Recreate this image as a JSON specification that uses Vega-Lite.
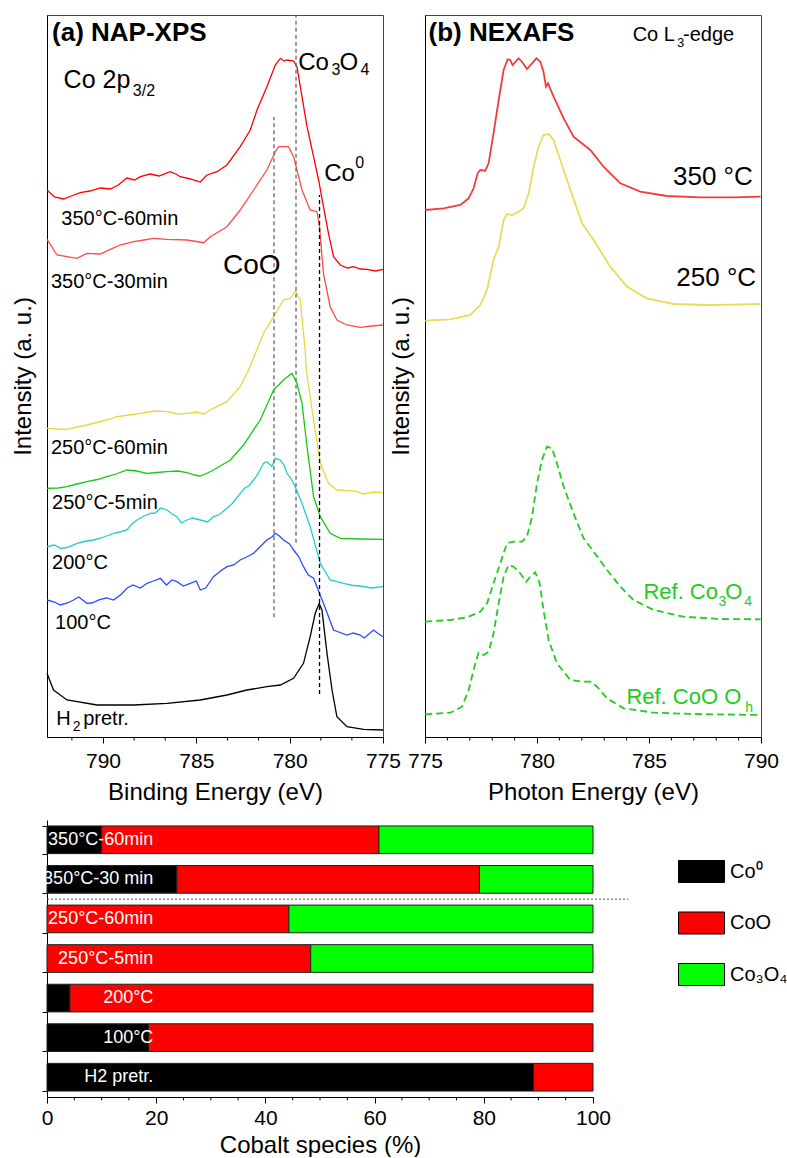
{
 "$schema": "https://vega.github.io/schema/vega-lite/v6.json",
 "padding": {"left": 10, "top": 13, "right": 5, "bottom": 0},
 "config": {
  "font": "Liberation Sans",
  "view": {"stroke": null},
  "axis": {"labelFont": "Liberation Sans", "titleFont": "Liberation Sans", "labelFontSize": 21, "titleFontSize": 24, "titleFontWeight": "normal", "labelColor": "black", "titleColor": "black", "domainColor": "black", "tickColor": "black", "grid": false, "labelFlush": false, "labelOverlap": false},
  "legend": {"labelFont": "Liberation Sans"}
 },
 "datasets": {
  "xps": [
   {"s":"350-60","E":793.0,"I":547},{"s":"350-60","E":792.6,"I":540},{"s":"350-60","E":792.11,"I":538},{"s":"350-60","E":791.7,"I":541},{"s":"350-60","E":791.22,"I":544.3},{"s":"350-60","E":790.7,"I":546},{"s":"350-60","E":790.15,"I":549},{"s":"350-60","E":789.6,"I":548},{"s":"350-60","E":789.18,"I":552},{"s":"350-60","E":788.72,"I":559},{"s":"350-60","E":788.3,"I":557},{"s":"350-60","E":788.0,"I":560.3},{"s":"350-60","E":787.47,"I":563},{"s":"350-60","E":787.0,"I":561},{"s":"350-60","E":786.4,"I":565.3},{"s":"350-60","E":786.1,"I":563},{"s":"350-60","E":785.86,"I":560.3},{"s":"350-60","E":785.32,"I":558},{"s":"350-60","E":784.79,"I":555},{"s":"350-60","E":784.43,"I":562},{"s":"350-60","E":783.89,"I":565.3},{"s":"350-60","E":783.36,"I":572},{"s":"350-60","E":782.65,"I":590.3},{"s":"350-60","E":782.11,"I":607},{"s":"350-60","E":781.75,"I":627},{"s":"350-60","E":781.22,"I":650.3},{"s":"350-60","E":780.77,"I":672},{"s":"350-60","E":780.5,"I":678.7},{"s":"350-60","E":780.3,"I":676},{"s":"350-60","E":780.15,"I":677},{"s":"350-60","E":779.79,"I":676},{"s":"350-60","E":779.61,"I":670.3},{"s":"350-60","E":779.34,"I":640.3},{"s":"350-60","E":779.07,"I":610.3},{"s":"350-60","E":778.72,"I":580.3},{"s":"350-60","E":778.45,"I":557},{"s":"350-60","E":778.19,"I":530.3},{"s":"350-60","E":777.92,"I":503.7},{"s":"350-60","E":777.65,"I":480.3},{"s":"350-60","E":777.29,"I":472},{"s":"350-60","E":776.9,"I":469},{"s":"350-60","E":776.58,"I":470.3},{"s":"350-60","E":776.2,"I":468},{"s":"350-60","E":775.86,"I":467.7},{"s":"350-60","E":775.4,"I":466},{"s":"350-60","E":775.0,"I":467.7},
   {"s":"350-30","E":793.0,"I":497.7},{"s":"350-30","E":792.46,"I":482},{"s":"350-30","E":791.93,"I":480.3},{"s":"350-30","E":791.39,"I":478.7},{"s":"350-30","E":790.86,"I":483.7},{"s":"350-30","E":790.15,"I":483},{"s":"350-30","E":789.61,"I":487.7},{"s":"350-30","E":789.08,"I":492},{"s":"350-30","E":788.36,"I":495.3},{"s":"350-30","E":787.8,"I":497},{"s":"350-30","E":787.29,"I":498.7},{"s":"350-30","E":786.57,"I":497.7},{"s":"350-30","E":785.5,"I":497},{"s":"350-30","E":784.61,"I":494.3},{"s":"350-30","E":784.25,"I":500.3},{"s":"350-30","E":783.36,"I":510.3},{"s":"350-30","E":782.65,"I":527},{"s":"350-30","E":781.93,"I":547},{"s":"350-30","E":781.22,"I":567},{"s":"350-30","E":780.77,"I":585.3},{"s":"350-30","E":780.59,"I":590.3},{"s":"350-30","E":780.06,"I":590.3},{"s":"350-30","E":779.79,"I":580.3},{"s":"350-30","E":779.34,"I":547},{"s":"350-30","E":778.9,"I":527},{"s":"350-30","E":778.54,"I":525.3},{"s":"350-30","E":778.4,"I":510.3},{"s":"350-30","E":778.19,"I":463.7},{"s":"350-30","E":777.83,"I":430.3},{"s":"350-30","E":777.47,"I":417},{"s":"350-30","E":776.93,"I":412},{"s":"350-30","E":776.22,"I":409.7},{"s":"350-30","E":775.6,"I":411},{"s":"350-30","E":775.0,"I":412},
   {"s":"250-60","E":793.0,"I":308.7},{"s":"250-60","E":792.4,"I":308},{"s":"250-60","E":791.93,"I":307.7},{"s":"250-60","E":791.4,"I":310},{"s":"250-60","E":790.86,"I":312},{"s":"250-60","E":790.0,"I":316},{"s":"250-60","E":789.6,"I":318},{"s":"250-60","E":789.25,"I":320.3},{"s":"250-60","E":788.6,"I":322},{"s":"250-60","E":788.0,"I":323.7},{"s":"250-60","E":787.2,"I":326},{"s":"250-60","E":786.57,"I":325.3},{"s":"250-60","E":786.0,"I":323},{"s":"250-60","E":785.5,"I":323.7},{"s":"250-60","E":785.0,"I":325},{"s":"250-60","E":784.61,"I":323},{"s":"250-60","E":784.08,"I":328.7},{"s":"250-60","E":783.36,"I":335.3},{"s":"250-60","E":782.65,"I":350.3},{"s":"250-60","E":782.2,"I":367},{"s":"250-60","E":781.4,"I":403.7},{"s":"250-60","E":780.86,"I":420.3},{"s":"250-60","E":780.33,"I":437},{"s":"250-60","E":779.97,"I":438.7},{"s":"250-60","E":779.7,"I":446},{"s":"250-60","E":779.43,"I":437},{"s":"250-60","E":779.17,"I":387},{"s":"250-60","E":779.11,"I":367},{"s":"250-60","E":778.72,"I":317},{"s":"250-60","E":778.36,"I":273.7},{"s":"250-60","E":777.92,"I":253.7},{"s":"250-60","E":777.47,"I":247},{"s":"250-60","E":776.75,"I":246.3},{"s":"250-60","E":776.4,"I":245.5},{"s":"250-60","E":776.04,"I":243},{"s":"250-60","E":775.5,"I":245},{"s":"250-60","E":775.0,"I":244.3},
   {"s":"250-5","E":793.0,"I":248.7},{"s":"250-5","E":792.4,"I":249},{"s":"250-5","E":791.93,"I":250.3},{"s":"250-5","E":791.4,"I":253},{"s":"250-5","E":790.86,"I":255.3},{"s":"250-5","E":790.3,"I":257.5},{"s":"250-5","E":789.79,"I":260.3},{"s":"250-5","E":789.3,"I":263},{"s":"250-5","E":788.72,"I":267},{"s":"250-5","E":788.2,"I":266},{"s":"250-5","E":787.64,"I":263.7},{"s":"250-5","E":787.1,"I":264.5},{"s":"250-5","E":786.57,"I":265.3},{"s":"250-5","E":786.0,"I":266},{"s":"250-5","E":785.5,"I":264.3},{"s":"250-5","E":785.1,"I":262},{"s":"250-5","E":784.79,"I":261},{"s":"250-5","E":784.4,"I":264},{"s":"250-5","E":784.08,"I":267},{"s":"250-5","E":783.18,"I":277},{"s":"250-5","E":782.47,"I":292},{"s":"250-5","E":781.58,"I":317},{"s":"250-5","E":780.86,"I":347},{"s":"250-5","E":780.33,"I":357},{"s":"250-5","E":779.88,"I":363.7},{"s":"250-5","E":779.61,"I":353.7},{"s":"250-5","E":779.34,"I":333.7},{"s":"250-5","E":779.07,"I":290.3},{"s":"250-5","E":778.72,"I":240.3},{"s":"250-5","E":778.36,"I":220.3},{"s":"250-5","E":777.83,"I":203.7},{"s":"250-5","E":777.29,"I":198.7},{"s":"250-5","E":776.22,"I":198},{"s":"250-5","E":775.0,"I":197.7},
   {"s":"200","E":793.0,"I":190.3},{"s":"200","E":792.6,"I":192},{"s":"200","E":792.29,"I":188.7},{"s":"200","E":791.9,"I":189.5},{"s":"200","E":791.39,"I":193.7},{"s":"200","E":791.0,"I":195.5},{"s":"200","E":790.5,"I":197},{"s":"200","E":790.1,"I":199},{"s":"200","E":789.8,"I":201},{"s":"200","E":789.43,"I":203.7},{"s":"200","E":789.1,"I":205},{"s":"200","E":788.72,"I":207},{"s":"200","E":788.45,"I":213},{"s":"200","E":788.18,"I":217},{"s":"200","E":787.8,"I":221},{"s":"200","E":787.47,"I":223.7},{"s":"200","E":787.2,"I":224},{"s":"200","E":786.9,"I":229},{"s":"200","E":786.57,"I":227},{"s":"200","E":786.3,"I":223},{"s":"200","E":786.04,"I":220.3},{"s":"200","E":785.8,"I":214},{"s":"200","E":785.5,"I":217},{"s":"200","E":785.2,"I":219},{"s":"200","E":784.79,"I":217},{"s":"200","E":784.4,"I":215},{"s":"200","E":784.08,"I":220.3},{"s":"200","E":783.8,"I":222},{"s":"200","E":783.36,"I":228.7},{"s":"200","E":783.1,"I":233},{"s":"200","E":782.65,"I":243.7},{"s":"200","E":782.4,"I":249},{"s":"200","E":782.2,"I":251},{"s":"200","E":781.93,"I":257},{"s":"200","E":781.7,"I":263},{"s":"200","E":781.4,"I":273.7},{"s":"200","E":781.22,"I":275.3},{"s":"200","E":780.95,"I":270.3},{"s":"200","E":780.77,"I":278.7},{"s":"200","E":780.5,"I":277},{"s":"200","E":780.3,"I":272},{"s":"200","E":780.15,"I":263.7},{"s":"200","E":779.95,"I":259},{"s":"200","E":779.79,"I":253.7},{"s":"200","E":779.34,"I":233.7},{"s":"200","E":778.9,"I":210.3},{"s":"200","E":778.36,"I":173.7},{"s":"200","E":777.83,"I":157},{"s":"200","E":777.11,"I":153.7},{"s":"200","E":776.6,"I":151.5},{"s":"200","E":776.22,"I":151},{"s":"200","E":775.6,"I":149},{"s":"200","E":775.0,"I":150.3},
   {"s":"100","E":793.0,"I":137},{"s":"100","E":792.6,"I":135},{"s":"100","E":792.29,"I":132},{"s":"100","E":791.9,"I":134},{"s":"100","E":791.58,"I":137},{"s":"100","E":791.3,"I":140},{"s":"100","E":790.86,"I":133.7},{"s":"100","E":790.6,"I":134},{"s":"100","E":790.15,"I":137.7},{"s":"100","E":789.8,"I":139},{"s":"100","E":789.43,"I":137},{"s":"100","E":789.0,"I":143},{"s":"100","E":788.72,"I":148.7},{"s":"100","E":788.4,"I":152},{"s":"100","E":788.0,"I":149},{"s":"100","E":787.64,"I":153.7},{"s":"100","E":787.3,"I":156},{"s":"100","E":786.93,"I":158.7},{"s":"100","E":786.6,"I":152},{"s":"100","E":786.3,"I":157},{"s":"100","E":786.04,"I":155.3},{"s":"100","E":785.7,"I":151},{"s":"100","E":785.32,"I":153.7},{"s":"100","E":785.0,"I":156},{"s":"100","E":784.79,"I":147},{"s":"100","E":784.5,"I":149},{"s":"100","E":784.08,"I":160.3},{"s":"100","E":783.7,"I":166},{"s":"100","E":783.36,"I":170.3},{"s":"100","E":783.0,"I":172},{"s":"100","E":782.65,"I":177},{"s":"100","E":782.3,"I":180},{"s":"100","E":781.93,"I":183.7},{"s":"100","E":781.6,"I":190},{"s":"100","E":781.22,"I":197},{"s":"100","E":780.95,"I":200},{"s":"100","E":780.77,"I":203.7},{"s":"100","E":780.55,"I":201},{"s":"100","E":780.33,"I":197},{"s":"100","E":780.0,"I":193},{"s":"100","E":779.79,"I":187},{"s":"100","E":779.5,"I":180},{"s":"100","E":779.26,"I":170.3},{"s":"100","E":779.0,"I":162},{"s":"100","E":778.72,"I":158.7},{"s":"100","E":778.19,"I":133.7},{"s":"100","E":777.65,"I":107},{"s":"100","E":776.93,"I":102},{"s":"100","E":776.6,"I":104},{"s":"100","E":776.22,"I":102},{"s":"100","E":776.0,"I":99},{"s":"100","E":775.51,"I":107},{"s":"100","E":775.3,"I":104},{"s":"100","E":775.0,"I":100.3},
   {"s":"H2","E":793.0,"I":63.7},{"s":"H2","E":792.65,"I":47},{"s":"H2","E":791.93,"I":37},{"s":"H2","E":790.32,"I":32},{"s":"H2","E":788.36,"I":32},{"s":"H2","E":786.57,"I":33.7},{"s":"H2","E":784.79,"I":37},{"s":"H2","E":783.36,"I":42},{"s":"H2","E":782.29,"I":47},{"s":"H2","E":781.22,"I":50.3},{"s":"H2","E":780.5,"I":52},{"s":"H2","E":779.79,"I":58.7},{"s":"H2","E":779.26,"I":73.7},{"s":"H2","E":778.9,"I":100.3},{"s":"H2","E":778.63,"I":123.7},{"s":"H2","E":778.42,"I":133.5},{"s":"H2","E":778.27,"I":127},{"s":"H2","E":778.0,"I":83.7},{"s":"H2","E":777.73,"I":47},{"s":"H2","E":777.47,"I":20.3},{"s":"H2","E":776.93,"I":10.3},{"s":"H2","E":776.04,"I":7.7},{"s":"H2","E":775.0,"I":7}
  ],
  "nex": [
   {"s":"350 °C","E":775.01,"I":527},{"s":"350 °C","E":775.83,"I":528.7},{"s":"350 °C","E":776.58,"I":532},{"s":"350 °C","E":776.95,"I":538.7},{"s":"350 °C","E":777.17,"I":548.7},{"s":"350 °C","E":777.35,"I":563.7},{"s":"350 °C","E":777.47,"I":567},{"s":"350 °C","E":777.69,"I":566.3},{"s":"350 °C","E":777.84,"I":573.7},{"s":"350 °C","E":778.06,"I":603.7},{"s":"350 °C","E":778.29,"I":637},{"s":"350 °C","E":778.51,"I":667},{"s":"350 °C","E":778.69,"I":677.7},{"s":"350 °C","E":778.81,"I":677},{"s":"350 °C","E":778.91,"I":672},{"s":"350 °C","E":779.18,"I":678.7},{"s":"350 °C","E":779.33,"I":675.3},{"s":"350 °C","E":779.55,"I":668},{"s":"350 °C","E":779.78,"I":673.7},{"s":"350 °C","E":779.97,"I":678.7},{"s":"350 °C","E":780.15,"I":675.3},{"s":"350 °C","E":780.29,"I":665.3},{"s":"350 °C","E":780.4,"I":650.3},{"s":"350 °C","E":780.49,"I":653.7},{"s":"350 °C","E":780.74,"I":640.3},{"s":"350 °C","E":781.19,"I":618.7},{"s":"350 °C","E":781.63,"I":600.3},{"s":"350 °C","E":782.38,"I":587},{"s":"350 °C","E":782.97,"I":570.3},{"s":"350 °C","E":783.72,"I":553.7},{"s":"350 °C","E":784.61,"I":545.3},{"s":"350 °C","E":785.8,"I":541},{"s":"350 °C","E":787.29,"I":539.7},{"s":"350 °C","E":788.78,"I":539.7},{"s":"350 °C","E":789.98,"I":540.3},
   {"s":"250 °C","E":775.01,"I":416.3},{"s":"250 °C","E":776.13,"I":417.7},{"s":"250 °C","E":777.02,"I":422},{"s":"250 °C","E":777.47,"I":432},{"s":"250 °C","E":777.77,"I":447},{"s":"250 °C","E":778.06,"I":477},{"s":"250 °C","E":778.29,"I":490.3},{"s":"250 °C","E":778.51,"I":517},{"s":"250 °C","E":778.66,"I":523},{"s":"250 °C","E":778.88,"I":522},{"s":"250 °C","E":779.18,"I":525.3},{"s":"250 °C","E":779.4,"I":528.7},{"s":"250 °C","E":779.63,"I":543.7},{"s":"250 °C","E":779.85,"I":570.3},{"s":"250 °C","E":780.07,"I":590.3},{"s":"250 °C","E":780.29,"I":602},{"s":"250 °C","E":780.52,"I":603},{"s":"250 °C","E":780.74,"I":597},{"s":"250 °C","E":781.04,"I":577},{"s":"250 °C","E":781.49,"I":547},{"s":"250 °C","E":782.01,"I":513.7},{"s":"250 °C","E":782.53,"I":497},{"s":"250 °C","E":783.27,"I":470.3},{"s":"250 °C","E":784.02,"I":450.3},{"s":"250 °C","E":784.91,"I":438.7},{"s":"250 °C","E":786.1,"I":433},{"s":"250 °C","E":787.59,"I":432},{"s":"250 °C","E":788.78,"I":432.3},{"s":"250 °C","E":789.98,"I":433}
  ],
  "refs": [
   {"s":"Co3O4","E":775.01,"I":115.3},{"s":"Co3O4","E":776.13,"I":117},{"s":"Co3O4","E":776.88,"I":119.7},{"s":"Co3O4","E":777.47,"I":125.3},{"s":"Co3O4","E":777.77,"I":133.7},{"s":"Co3O4","E":778.06,"I":153.7},{"s":"Co3O4","E":778.36,"I":173.7},{"s":"Co3O4","E":778.66,"I":193.7},{"s":"Co3O4","E":778.96,"I":195.3},{"s":"Co3O4","E":779.33,"I":195.3},{"s":"Co3O4","E":779.55,"I":200.3},{"s":"Co3O4","E":779.78,"I":220.3},{"s":"Co3O4","E":780.0,"I":253.7},{"s":"Co3O4","E":780.22,"I":277},{"s":"Co3O4","E":780.45,"I":290.3},{"s":"Co3O4","E":780.67,"I":288.7},{"s":"Co3O4","E":780.89,"I":273.7},{"s":"Co3O4","E":781.19,"I":250.3},{"s":"Co3O4","E":781.63,"I":223.7},{"s":"Co3O4","E":782.08,"I":198.7},{"s":"Co3O4","E":782.53,"I":185.3},{"s":"Co3O4","E":783.13,"I":167},{"s":"Co3O4","E":783.72,"I":150.3},{"s":"Co3O4","E":784.31,"I":137},{"s":"Co3O4","E":785.21,"I":127},{"s":"Co3O4","E":786.54,"I":120.3},{"s":"Co3O4","E":788.18,"I":118},{"s":"Co3O4","E":789.98,"I":117.7},
   {"s":"CoO","E":775.01,"I":22.7},{"s":"CoO","E":776.13,"I":24.3},{"s":"CoO","E":776.65,"I":30.3},{"s":"CoO","E":776.95,"I":47},{"s":"CoO","E":777.17,"I":67},{"s":"CoO","E":777.39,"I":84.3},{"s":"CoO","E":777.62,"I":82},{"s":"CoO","E":777.84,"I":85.3},{"s":"CoO","E":778.06,"I":103.7},{"s":"CoO","E":778.29,"I":133.7},{"s":"CoO","E":778.51,"I":160.3},{"s":"CoO","E":778.73,"I":172},{"s":"CoO","E":778.96,"I":170.3},{"s":"CoO","E":779.25,"I":163.7},{"s":"CoO","E":779.52,"I":155.3},{"s":"CoO","E":779.7,"I":160.3},{"s":"CoO","E":779.92,"I":164.7},{"s":"CoO","E":780.12,"I":153.7},{"s":"CoO","E":780.29,"I":127},{"s":"CoO","E":780.52,"I":97},{"s":"CoO","E":780.89,"I":73.7},{"s":"CoO","E":781.49,"I":57},{"s":"CoO","E":782.01,"I":55.3},{"s":"CoO","E":782.38,"I":55.3},{"s":"CoO","E":782.68,"I":50.3},{"s":"CoO","E":783.13,"I":38.7},{"s":"CoO","E":783.87,"I":28.7},{"s":"CoO","E":785.21,"I":24.3},{"s":"CoO","E":786.99,"I":23},{"s":"CoO","E":789.98,"I":22}
  ],
  "bars": [
   {"cat":"350°C-60min","sp":"Co0","o":1,"v":10},{"cat":"350°C-60min","sp":"CoO","o":2,"v":50.8},{"cat":"350°C-60min","sp":"Co3O4","o":3,"v":39.2},
   {"cat":"350°C-30 min","sp":"Co0","o":1,"v":23.8},{"cat":"350°C-30 min","sp":"CoO","o":2,"v":55.4},{"cat":"350°C-30 min","sp":"Co3O4","o":3,"v":20.8},
   {"cat":"250°C-60min","sp":"CoO","o":2,"v":44.3},{"cat":"250°C-60min","sp":"Co3O4","o":3,"v":55.7},
   {"cat":"250°C-5min","sp":"CoO","o":2,"v":48.3},{"cat":"250°C-5min","sp":"Co3O4","o":3,"v":51.7},
   {"cat":"200°C","sp":"Co0","o":1,"v":4.2},{"cat":"200°C","sp":"CoO","o":2,"v":95.8},
   {"cat":"100°C","sp":"Co0","o":1,"v":18.6},{"cat":"100°C","sp":"CoO","o":2,"v":81.4},
   {"cat":"H2 pretr.","sp":"Co0","o":1,"v":89.1},{"cat":"H2 pretr.","sp":"CoO","o":2,"v":10.9}
  ]
 },
 "spacing": 15,
 "resolve": {"scale": {"color": "independent"}},
 "vconcat": [
  {
   "bounds": "flush",
   "spacing": 42,
   "resolve": {"scale": {"color": "independent"}},
   "hconcat": [
    {
     "width": 336, "height": 722,
     "view": {"stroke": "#444", "strokeWidth": 1},
     "layer": [
      {"data": {"name": "xps"}, "mark": {"type": "line", "strokeWidth": 1.3},
       "encoding": {
        "x": {"field": "E", "type": "quantitative", "scale": {"domain": [775, 793], "reverse": true, "nice": false, "zero": false},
         "axis": {"title": "Binding Energy (eV)", "values": [790, 785, 780, 775], "format": "d", "tickSize": 6,
          "labelOverlap": false, "labelFlush": false, "labelPadding": 7, "titlePadding": 9}},
        "y": {"field": "I", "type": "quantitative", "scale": {"domain": [0, 722], "nice": false, "zero": false},
         "axis": {"title": "Intensity (a. u.)", "labels": false, "ticks": false, "titlePadding": 12}},
        "color": {"field": "s", "type": "nominal", "legend": null,
         "scale": {"domain": ["350-60", "350-30", "250-60", "250-5", "200", "100", "H2"], "range": ["#ff0000", "#ff4a4a", "#e6d83c", "#11cc11", "#22cccc", "#2a4cff", "#000000"]}}
       }},
      {"data": {"values": [{"E": 791.6667}, {"E": 788.3333}, {"E": 786.6667}, {"E": 783.3333}, {"E": 781.6667}, {"E": 778.3333}, {"E": 776.6667}]},
       "mark": {"type": "rule", "color": "black", "strokeWidth": 1, "clip": false},
       "encoding": {"x": {"field": "E", "type": "quantitative"}, "y": {"datum": 0}, "y2": {"datum": -3.5}}},
      {"data": {"values": [{"k": "CoO", "E": 780.84, "lo": 119.7, "hi": 620}, {"k": "Co3O4", "E": 779.66, "lo": 194.3, "hi": 722}, {"k": "Co0", "E": 778.4, "lo": 43, "hi": 542}]},
       "mark": {"type": "rule", "strokeDash": [4, 3], "strokeWidth": 1.3},
       "encoding": {"x": {"field": "E", "type": "quantitative"}, "y": {"field": "lo", "type": "quantitative"}, "y2": {"field": "hi"},
        "color": {"condition": {"test": "datum.k === 'Co0'", "value": "#000000"}, "value": "#666666"}}},
      {"data": {"values": [{"E": 792.23, "I": 518, "t": "350°C-60min"}, {"E": 792.79, "I": 454.7, "t": "350°C-30min"}, {"E": 792.79, "I": 288.7, "t": "250°C-60min"}, {"E": 792.73, "I": 233.7, "t": "250°C-5min"}, {"E": 792.73, "I": 174.3, "t": "200°C"}, {"E": 792.57, "I": 113.7, "t": "100°C"}, {"E": 792.5, "I": 17.7, "t": "H"}, {"E": 791.06, "I": 17.7, "t": "pretr."}]},
       "mark": {"type": "text", "align": "left", "baseline": "middle", "fontSize": 20, "color": "black"},
       "encoding": {"x": {"field": "E", "type": "quantitative"}, "y": {"field": "I", "type": "quantitative"}, "text": {"field": "t"}}},
      {"data": {"values": [{"E": 791.62, "I": 10, "t": "2"}]},
       "mark": {"type": "text", "align": "left", "baseline": "middle", "fontSize": 14, "color": "black"},
       "encoding": {"x": {"field": "E", "type": "quantitative"}, "y": {"field": "I", "type": "quantitative"}, "text": {"field": "t"}}},
      {"data": {"values": [{"E": 792.11, "I": 657, "t": "Co 2p"}]},
       "mark": {"type": "text", "align": "left", "baseline": "middle", "fontSize": 25, "color": "black"},
       "encoding": {"x": {"field": "E", "type": "quantitative"}, "y": {"field": "I", "type": "quantitative"}, "text": {"field": "t"}}},
      {"data": {"values": [{"E": 788.4, "I": 646, "t": "3/2"}, {"E": 777.76, "I": 667, "t": "3"}, {"E": 776.2, "I": 667, "t": "4"}, {"E": 776.49, "I": 574, "t": "0"}]},
       "mark": {"type": "text", "align": "left", "baseline": "middle", "fontSize": 16, "color": "black"},
       "encoding": {"x": {"field": "E", "type": "quantitative"}, "y": {"field": "I", "type": "quantitative"}, "text": {"field": "t"}}},
      {"data": {"values": [{"E": 779.54, "I": 674, "t": "Co"}, {"E": 777.33, "I": 674, "t": "O"}, {"E": 778.15, "I": 562.7, "t": "Co"}]},
       "mark": {"type": "text", "align": "left", "baseline": "middle", "fontSize": 24, "color": "black"},
       "encoding": {"x": {"field": "E", "type": "quantitative"}, "y": {"field": "I", "type": "quantitative"}, "text": {"field": "t"}}},
      {"data": {"values": [{"E": 783.57, "I": 471, "t": "CoO"}]},
       "mark": {"type": "text", "align": "left", "baseline": "middle", "fontSize": 28, "color": "black"},
       "encoding": {"x": {"field": "E", "type": "quantitative"}, "y": {"field": "I", "type": "quantitative"}, "text": {"field": "t"}}},
      {"data": {"values": [{"E": 792.73, "I": 703.7, "t": "(a) NAP-XPS"}]},
       "mark": {"type": "text", "align": "left", "baseline": "middle", "fontSize": 26, "fontWeight": "bold", "color": "black"},
       "encoding": {"x": {"field": "E", "type": "quantitative"}, "y": {"field": "I", "type": "quantitative"}, "text": {"field": "t"}}}
     ]
    },
    {
     "width": 336, "height": 722,
     "view": {"stroke": "#444", "strokeWidth": 1},
     "layer": [
      {"data": {"name": "nex"}, "mark": {"type": "line", "strokeWidth": 1.8},
       "encoding": {
        "x": {"field": "E", "type": "quantitative", "scale": {"domain": [775, 790], "nice": false, "zero": false},
         "axis": {"title": "Photon Energy (eV)", "values": [775, 780, 785, 790], "format": "d", "tickSize": 6,
          "labelOverlap": false, "labelFlush": false, "labelPadding": 7, "titlePadding": 9}},
        "y": {"field": "I", "type": "quantitative", "scale": {"domain": [0, 722], "nice": false, "zero": false},
         "axis": {"title": "Intensity (a. u.)", "labels": false, "ticks": false, "titlePadding": 12}},
        "color": {"field": "s", "type": "nominal", "legend": null, "scale": {"domain": ["350 °C", "250 °C"], "range": ["#f23c3c", "#e8dc5a"]}}
       }},
      {"data": {"values": [{"E": 776}, {"E": 777}, {"E": 778}, {"E": 779}, {"E": 781}, {"E": 782}, {"E": 783}, {"E": 784}, {"E": 786}, {"E": 787}, {"E": 788}, {"E": 789}]},
       "mark": {"type": "rule", "color": "black", "strokeWidth": 1, "clip": false},
       "encoding": {"x": {"field": "E", "type": "quantitative"}, "y": {"datum": 0}, "y2": {"datum": -3.5}}},
      {"data": {"name": "refs"}, "mark": {"type": "line", "strokeWidth": 1.8, "strokeDash": [7, 4], "color": "#22cc22"},
       "encoding": {"x": {"field": "E", "type": "quantitative"}, "y": {"field": "I", "type": "quantitative"}, "detail": {"field": "s"}}},
      {"data": {"values": [{"E": 775.16, "I": 703.7, "t": "(b) NEXAFS"}]},
       "mark": {"type": "text", "align": "left", "baseline": "middle", "fontSize": 26, "fontWeight": "bold", "color": "black"},
       "encoding": {"x": {"field": "E", "type": "quantitative"}, "y": {"field": "I", "type": "quantitative"}, "text": {"field": "t"}}},
      {"data": {"values": [{"E": 784.27, "I": 702, "t": "Co L"}, {"E": 786.52, "I": 702, "t": "-edge"}]},
       "mark": {"type": "text", "align": "left", "baseline": "middle", "fontSize": 20, "color": "black"},
       "encoding": {"x": {"field": "E", "type": "quantitative"}, "y": {"field": "I", "type": "quantitative"}, "text": {"field": "t"}}},
      {"data": {"values": [{"E": 786.25, "I": 694, "t": "3"}]},
       "mark": {"type": "text", "align": "left", "baseline": "middle", "fontSize": 13, "color": "black"},
       "encoding": {"x": {"field": "E", "type": "quantitative"}, "y": {"field": "I", "type": "quantitative"}, "text": {"field": "t"}}},
      {"data": {"values": [{"E": 786.07, "I": 560, "t": "350 °C"}, {"E": 786.22, "I": 459, "t": "250 °C"}]},
       "mark": {"type": "text", "align": "left", "baseline": "middle", "fontSize": 26, "color": "black"},
       "encoding": {"x": {"field": "E", "type": "quantitative"}, "y": {"field": "I", "type": "quantitative"}, "text": {"field": "t"}}},
      {"data": {"values": [{"E": 784.75, "I": 145.3, "t": "Ref. Co"}, {"E": 788.4, "I": 145.3, "t": "O"}, {"E": 783.99, "I": 40.3, "t": "Ref. CoO O"}]},
       "mark": {"type": "text", "align": "left", "baseline": "middle", "fontSize": 22, "color": "#22cc22"},
       "encoding": {"x": {"field": "E", "type": "quantitative"}, "y": {"field": "I", "type": "quantitative"}, "text": {"field": "t"}}},
      {"data": {"values": [{"E": 788.1, "I": 135.3, "t": "3"}, {"E": 789.25, "I": 135.3, "t": "4"}, {"E": 789.3, "I": 28.7, "t": "h"}]},
       "mark": {"type": "text", "align": "left", "baseline": "middle", "fontSize": 14, "color": "#22cc22"},
       "encoding": {"x": {"field": "E", "type": "quantitative"}, "y": {"field": "I", "type": "quantitative"}, "text": {"field": "t"}}}
     ]
    }
   ]
  },
  {
   "width": 546, "height": 277,
   "layer": [
    {
     "layer": [
      {"data": {"name": "bars"}, "mark": {"type": "bar", "stroke": "#222", "strokeWidth": 1},
       "encoding": {
        "y": {"field": "cat", "type": "nominal", "sort": ["350°C-60min", "350°C-30 min", "250°C-60min", "250°C-5min", "200°C", "100°C", "H2 pretr."],
         "scale": {"paddingInner": 0.3, "paddingOuter": 0.15},
         "axis": {"title": null, "labels": false, "tickBand": "extent", "tickSize": 5}},
        "x": {"field": "v", "type": "quantitative", "stack": "zero", "scale": {"domain": [0, 100], "nice": false},
         "axis": {"title": "Cobalt species (%)", "values": [0, 20, 40, 60, 80, 100], "format": "d", "tickSize": 6,
          "labelOverlap": false, "labelFlush": false, "labelPadding": 4, "titlePadding": 5}},
        "color": {"field": "sp", "type": "nominal",
         "scale": {"domain": ["Co0", "CoO", "Co3O4"], "range": ["#000000", "#ff0000", "#00ff00"]},
         "legend": {"orient": "none", "legendX": 631, "legendY": 28, "title": null, "symbolType": "M-1,-0.478H1V0.478H-1Z", "symbolSize": 2116, "symbolStrokeColor": "black", "symbolStrokeWidth": 1, "labelFontSize": 20, "labelColor": "black", "labelOffset": 5, "rowPadding": 14.5,
          "labelExpr": "datum.label === 'Co0' ? 'Co⁰' : datum.label === 'Co3O4' ? 'Co₃O₄' : datum.label"}},
        "order": {"field": "o", "type": "quantitative"}
       }},
      {"data": {"values": [{"cat": "350°C-60min", "lab": "350°C-60min"}, {"cat": "350°C-30 min", "lab": "350°C-30 min"}, {"cat": "250°C-60min", "lab": "250°C-60min"}, {"cat": "250°C-5min", "lab": "250°C-5min"}, {"cat": "200°C", "lab": "200°C"}, {"cat": "100°C", "lab": "100°C"}, {"cat": "H2 pretr.", "lab": "H2 pretr."}]},
       "mark": {"type": "text", "align": "right", "baseline": "middle", "fontSize": 18, "color": "white"},
       "encoding": {"y": {"field": "cat", "type": "nominal", "sort": ["350°C-60min", "350°C-30 min", "250°C-60min", "250°C-5min", "200°C", "100°C", "H2 pretr."]},
        "x": {"datum": 19.48, "type": "quantitative"}, "text": {"field": "lab"}}}
     ]
    },
    {"data": {"values": [{"pos": 5, "x0": 0, "x1": 106.5}]},
     "mark": {"type": "rule", "strokeDash": [2, 2], "color": "#555555", "strokeWidth": 1, "clip": false},
     "encoding": {"y": {"field": "pos", "type": "quantitative", "scale": {"domain": [0, 7], "nice": false, "zero": false}, "axis": null},
      "x": {"field": "x0", "type": "quantitative"}, "x2": {"field": "x1"}}},
    {"data": {"values": [{"p": 5}, {"p": 10}, {"p": 15}, {"p": 25}, {"p": 30}, {"p": 35}, {"p": 45}, {"p": 50}, {"p": 55}, {"p": 65}, {"p": 70}, {"p": 75}, {"p": 85}, {"p": 90}, {"p": 95}]},
     "mark": {"type": "rule", "color": "black", "strokeWidth": 1, "clip": false},
     "encoding": {"x": {"field": "p", "type": "quantitative"},
      "y": {"datum": 0, "type": "quantitative", "scale": {"domain": [0, 7], "nice": false, "zero": false}, "axis": null}, "y2": {"datum": -0.085}}}
   ],
   "resolve": {"scale": {"y": "independent"}}
  }
 ]
}
